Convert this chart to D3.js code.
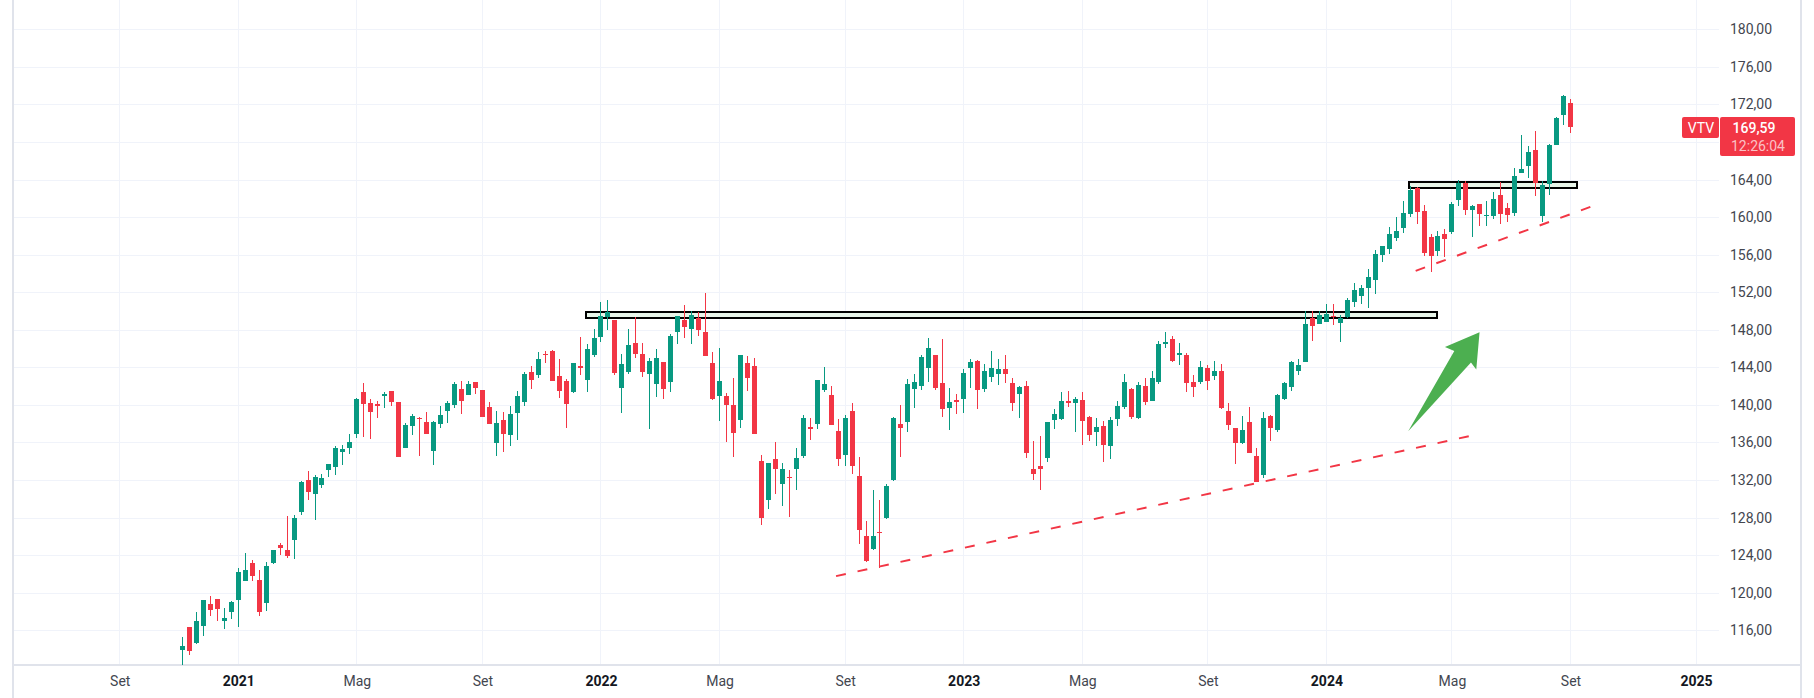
<!DOCTYPE html>
<html>
<head>
<meta charset="utf-8">
<title>VTV</title>
<script src="https://cdn.jsdelivr.net/npm/d3@7"></script>
<style>
  html, body { margin: 0; padding: 0; background: #ffffff; }
  svg { display: block; }
  text { font-family: Roboto, "Noto Sans", sans-serif; }
</style>
</head>
<body>
<svg id="chart" width="1814" height="698"></svg>
<script>
// weekly candles
const opens = [
  113.91,116.35,114.65,116.46,118.8,119.34,116.99,117.95,119.23,121.25,
  123.17,121.36,118.91,123.17,125.09,124.56,125.62,128.6,132.0,130.52,
  131.48,133.07,133.4,134.99,135.42,136.91,141.38,140.21,140.1,140.96,
  141.49,140.32,135.42,137.76,138.61,138.19,135.1,137.97,139.36,140.04,
  141.74,141.1,142.48,141.63,139.82,135.99,138.44,136.84,139.18,140.35,
  143.55,143.23,145.47,145.79,143.12,142.59,141.42,144.19,142.7,145.36,
  147.28,149.4,149.09,141.85,143.55,146.64,145.47,143.34,142.27,144.61,
  142.48,147.81,149.09,148.13,149.3,147.81,144.51,140.99,140.99,140.04,
  138.44,144.47,144.15,134.04,129.88,134.25,131.59,132.33,133.18,134.57,
  137.66,137.98,141.6,141.06,137.23,134.68,139.36,132.44,126.05,124.66,
  126.47,127.97,132.01,137.98,138.19,141.7,142.02,143.94,145.32,142.34,
  139.68,140.53,140.64,143.94,144.69,141.7,142.98,143.3,143.83,142.34,
  141.17,142.02,133.18,133.5,134.36,138.4,138.51,140.43,140.21,140.53,
  138.72,137.12,137.76,135.63,138.51,139.79,141.7,138.62,142.02,140.43,
  142.45,146.5,147.03,145.32,145.32,142.45,142.45,143.94,143.09,143.62,
  139.36,137.55,135.95,138.19,134.57,132.55,138.83,137.34,140.64,141.92,
  143.62,144.58,149.27,148.6,148.82,149.46,148.71,149.35,150.98,151.62,
  152.47,153.33,155.99,156.63,157.8,158.86,160.35,163.12,160.67,157.91,
  156.41,158.23,158.44,161.85,163.66,160.78,161.42,160.14,160.14,162.38,
  160.99,160.46,164.72,165.47,167.17,160.14,163.55,167.7,170.9,172.18
];
const highs = [
  115.29,116.35,117.95,119.23,119.66,119.34,118.38,119.12,122.64,124.24,
  123.49,122.43,123.28,124.56,125.3,128.18,128.28,131.9,132.97,132.54,
  132.65,133.71,135.63,135.74,136.91,140.74,142.34,140.64,140.42,141.38,
  141.49,140.32,138.08,139.04,138.72,139.25,138.29,139.89,140.42,142.48,
  142.59,142.59,142.48,141.63,140.35,139.4,139.29,139.93,141.53,143.55,
  144.19,145.68,145.79,145.89,144.93,142.8,144.51,147.28,146.53,148.13,
  151.0,151.22,149.09,145.47,148.13,149.41,146.64,145.04,146.0,144.61,
  147.6,149.51,150.69,150.05,149.94,151.96,145.68,146.11,141.31,142.91,
  145.36,145.22,145.0,134.68,133.82,136.06,133.82,133.08,135.42,138.93,
  138.62,142.66,144.05,142.02,138.51,138.93,140.21,134.46,127.65,130.95,
  129.88,131.59,138.72,140,142.77,143.3,145.32,147.14,145.32,147.03,
  141.81,141.17,143.83,144.9,144.79,144.37,145.75,144.9,145.32,142.88,
  142.02,142.56,136.17,136.7,138.19,139.57,141.38,141.49,140.85,141.38,
  138.83,138.62,138.3,138.72,140.43,143.3,141.81,142.45,142.88,143.62,
  146.82,147.77,147.35,146.6,145.54,143.19,144.69,144.26,144.69,144.37,
  140.21,137.55,138.83,139.79,135.42,139.25,138.94,141.17,142.45,144.69,
  144.9,150.01,150.01,149.99,150.73,150.73,149.56,151.4,153.0,152.79,
  154.5,156.52,156.95,158.97,160.03,161.74,163.34,163.23,161.31,158.23,
  158.54,158.76,161.63,163.98,163.87,161.31,161.42,161.74,162.7,163.76,
  161.53,165.25,168.77,167.6,169.19,163.87,167.81,170.69,173.03,172.6
];
const lows = [
  112.31,113.37,114.54,115.4,117.53,116.99,116.14,117.21,116.35,121.25,
  121.25,117.53,118.06,123.06,124.02,123.7,123.6,128.28,129.88,127.75,
  131.16,132.33,132.54,133.6,134.78,136.48,136.6,136.38,138.61,139.68,
  139.89,134.46,135.42,136.8,134.57,136.91,133.6,137.55,138.08,139.72,
  139.08,141.1,141.21,138.76,138.01,134.6,135.03,135.67,136.31,139.93,
  141.74,142.91,144.51,142.59,140.78,137.59,141.31,143.23,141.42,145.15,
  146.74,148.02,143.23,139.18,143.34,145.04,143.02,137.48,140.89,140.67,
  141.42,146.53,147.17,146.53,147.38,145.25,140.57,138.33,136.1,134.5,
  137.55,141.49,136.91,127.22,128.92,130.52,129.24,128.07,130.95,134.36,
  136.27,137.44,141.38,137.87,133.5,133.5,132.65,125.2,123.28,124.56,
  122.64,127.86,131.91,134.46,137.12,139.68,141.6,142.45,141.6,138.72,
  137.34,139.04,139.15,141.81,139.57,141.38,142.45,142.13,142.34,139.36,
  138.62,134.36,132.01,130.95,133.93,137.44,138.4,139.79,137.12,135.74,
  136.17,135.63,133.93,134.25,137.76,139.57,138.51,138.51,140.0,140.43,
  142.24,146.07,144.58,144.26,141.38,140.85,142.24,141.6,142.66,139.57,
  137.34,133.72,135.85,134.89,131.8,132.23,136.17,137.12,140.53,141.49,
  143.19,144.58,146.82,148.6,148.82,148.5,146.69,149.3,150.45,150.77,
  150.34,151.84,155.24,156.1,157.48,158.33,160.03,159.29,155.88,154.18,
  155.88,155.78,158.23,161.21,160.25,157.91,159.08,159.08,159.82,159.29,
  159.5,160.14,164.72,164.19,162.27,159.5,162.38,167.7,169.83,168.98
];
const closes = [
  114.33,113.8,116.99,119.23,118.17,118.27,117.31,119.02,122.21,122.43,
  121.79,117.95,122.85,124.56,124.77,123.92,127.96,131.8,130.73,132.33,
  132.22,133.71,135.42,135.31,136.06,140.64,140.1,139.25,139.89,141.17,
  140.32,134.46,137.87,138.83,138.5,136.91,138.19,138.93,140.21,142.27,
  140.46,142.27,141.85,138.76,138.01,138.12,136.95,139.08,141.0,143.34,
  142.7,144.93,145.36,142.59,141.53,140.14,144.51,143.98,146.0,147.17,
  149.51,149.94,143.44,144.4,146.43,145.47,143.55,144.72,145.04,141.74,
  147.38,149.51,148.34,149.62,148.02,145.25,140.67,142.59,140.04,137.05,
  145.36,142.88,136.91,127.97,133.82,133.18,133.18,132.23,134.36,138.62,
  137.44,142.66,142.24,137.87,134.25,138.62,133.5,126.69,123.39,126.05,
  126.37,131.37,138.62,137.55,142.24,142.45,145.11,146.07,141.81,139.57,
  140.32,140.32,143.41,144.58,141.6,143.62,143.94,143.83,143.3,140.21,
  141.92,134.89,132.65,133.18,138.19,139.04,140.43,140.21,140.64,138.3,
  136.81,137.66,135.74,138.4,139.89,142.45,138.72,142.13,140.32,142.88,
  146.5,146.71,144.69,145.54,142.34,141.92,144.05,142.56,143.62,139.68,
  137.87,135.95,137.34,134.89,131.8,138.62,137.55,141.06,142.34,144.58,
  144.26,148.63,148.41,149.56,149.67,149.35,149.24,151.2,152.26,152.47,
  153.65,156.1,156.95,158.22,158.54,160.46,162.91,160.57,156.2,155.88,
  158.01,157.69,161.42,163.66,160.78,161.21,160.35,160.25,161.95,160.35,
  160.25,164.4,165.15,166.96,163.66,163.44,167.7,170.58,172.92,169.59
];

const priceTicks = [116,120,124,128,132,136,140,144,148,152,156,160,164,168,172,176,180];
const timeTicks = [-9,8,25,43,60,77,95,112,129,147,164,182,199,217]; // bar numbers
const timeLabels = ["Set","2021","Mag","Set","2022","Mag","Set","2023","Mag","Set","2024","Mag","Set","2025"];

// drawings, in bar number / price
const zoneBars = [[57.8, 179.9], [175.9, 199.9]];
const zonePrices = [[149.88, 149.24], [163.73, 163.12]];
const trendBars = [[93.7, 184.5], [176.8, 201.9]];
const trendPrices = [[121.77, 136.68], [154.28, 161.1]];
const arrowBars = [175.73, 182.34, 181.0, 185.96, 185.49, 184.73];
const arrowPrices = [137.21, 145.73, 146.16, 147.75, 143.78, 144.53];

const lastPrice = "169,59";
const countdown = "12:26:04";
const ticker = "VTV";

const green = "#089981";
const red = "#f23645";
const gridColor = "#f0f3fa";
const lineColor = "#e0e3eb";

const svg = d3.select("#chart");
const width = 1814;
const height = 698;
const plot = { left: 14, right: 1719, bottom: 665 };

const xScale = d3.scaleLinear().domain([0, 199]).range([182.5, 1570.5]);
const yScale = d3.scaleLinear().domain([116, 180]).range([630.3, 29.3]);
const priceFormat = (d) => d.toFixed(2).replace(".", ",");

// Grid
svg.append("g")
  .selectAll("line")
  .data(priceTicks)
  .enter()
  .append("line")
  .attr("x1", plot.left)
  .attr("x2", plot.right)
  .attr("y1", (d) => Math.round(yScale(d)) + 0.5)
  .attr("y2", (d) => Math.round(yScale(d)) + 0.5)
  .attr("stroke", gridColor);

svg.append("g")
  .selectAll("line")
  .data(timeTicks)
  .enter()
  .append("line")
  .attr("x1", (d) => Math.floor(xScale(d)) + 0.5)
  .attr("x2", (d) => Math.floor(xScale(d)) + 0.5)
  .attr("y1", 0)
  .attr("y2", plot.bottom)
  .attr("stroke", gridColor);

// Frame
svg.append("rect").attr("x", 12).attr("y", 0).attr("width", 2).attr("height", height).attr("fill", lineColor);
svg.append("rect").attr("x", 1800).attr("y", 0).attr("width", 2).attr("height", height).attr("fill", lineColor);
svg.append("rect").attr("x", 14).attr("y", plot.bottom - 1).attr("width", 1786).attr("height", 2).attr("fill", lineColor);

// Zones sit under the candles
svg.append("g")
  .selectAll("rect")
  .data(zoneBars)
  .enter()
  .append("rect")
  .attr("x", (d) => xScale(d[0]))
  .attr("y", (d, i) => yScale(zonePrices[i][0]))
  .attr("width", (d) => xScale(d[1]) - xScale(d[0]))
  .attr("height", (d, i) => yScale(zonePrices[i][1]) - yScale(zonePrices[i][0]))
  .attr("fill", "#e8f5e9")
  .attr("stroke", "#000000")
  .attr("stroke-width", 2)
  .attr("shape-rendering", "crispEdges");

// Candles
const bars = d3.range(opens.length);
const candles = svg.append("g").attr("shape-rendering", "crispEdges");

candles
  .selectAll(".wick")
  .data(bars)
  .enter()
  .append("rect")
  .attr("class", "wick")
  .attr("x", (i) => Math.floor(xScale(i)))
  .attr("y", (i) => Math.round(yScale(highs[i])))
  .attr("width", 1)
  .attr("height", (i) => Math.max(1, Math.round(yScale(lows[i])) - Math.round(yScale(highs[i]))))
  .attr("fill", (i) => (closes[i] >= opens[i] ? green : red));

candles
  .selectAll(".body")
  .data(bars)
  .enter()
  .append("rect")
  .attr("class", "body")
  .attr("x", (i) => Math.floor(xScale(i)) - 2)
  .attr("y", (i) => Math.round(yScale(Math.max(opens[i], closes[i]))))
  .attr("width", 5)
  .attr("height", (i) =>
    Math.max(1, Math.round(yScale(Math.min(opens[i], closes[i]))) - Math.round(yScale(Math.max(opens[i], closes[i]))))
  )
  .attr("fill", (i) => (closes[i] >= opens[i] ? green : red));

// Dashed trend lines
svg.append("g")
  .selectAll("line")
  .data(trendBars)
  .enter()
  .append("line")
  .attr("x1", (d) => xScale(d[0]))
  .attr("x2", (d) => xScale(d[1]))
  .attr("y1", (d, i) => yScale(trendPrices[i][0]))
  .attr("y2", (d, i) => yScale(trendPrices[i][1]))
  .attr("stroke", red)
  .attr("stroke-width", 2)
  .attr("stroke-dasharray", "10,12");

// Arrow
svg.append("path")
  .attr("d", d3.line().x((i) => xScale(arrowBars[i])).y((i) => yScale(arrowPrices[i]))(d3.range(arrowBars.length)) + "Z")
  .attr("fill", "#4caf50");

// Axes
const yAxis = d3.axisRight(yScale).tickValues(priceTicks).tickFormat(priceFormat).tickSize(0).tickPadding(0);
const yGroup = svg.append("g").attr("transform", "translate(1730,0)").call(yAxis);
yGroup.select(".domain").remove();
yGroup.selectAll("text").attr("font-size", 14).attr("fill", "#43464f").style("font-family", null);

const xAxis = d3
  .axisBottom(xScale)
  .tickValues(timeTicks)
  .tickFormat((d, i) => timeLabels[i])
  .tickSize(0)
  .tickPadding(0);
const xGroup = svg.append("g").attr("transform", "translate(0,676)").call(xAxis);
xGroup.select(".domain").remove();
xGroup
  .selectAll("text")
  .attr("font-size", 14)
  .attr("fill", (d, i) => (/^\d+$/.test(timeLabels[i]) ? "#131722" : "#43464f"))
  .attr("font-weight", (d, i) => (/^\d+$/.test(timeLabels[i]) ? 700 : 400))
  .style("font-family", null);

// Last price labels
svg.append("rect").attr("x", 1682).attr("y", 117).attr("width", 37).attr("height", 21).attr("rx", 2).attr("fill", red);
svg.append("rect").attr("x", 1720).attr("y", 117).attr("width", 75).attr("height", 39).attr("rx", 2).attr("fill", red);
svg.append("text").attr("x", 1701).attr("y", 132.5).attr("text-anchor", "middle").attr("font-size", 14).attr("fill", "#ffffff").text(ticker);
svg.append("text").attr("x", 1754).attr("y", 132.5).attr("text-anchor", "middle").attr("font-size", 14).attr("fill", "#ffffff").attr("font-weight", 500).text(lastPrice);
svg.append("text").attr("x", 1758).attr("y", 150.5).attr("text-anchor", "middle").attr("font-size", 14).attr("fill", "#ffffff").attr("fill-opacity", 0.7).text(countdown);
</script>
</body>
</html>
